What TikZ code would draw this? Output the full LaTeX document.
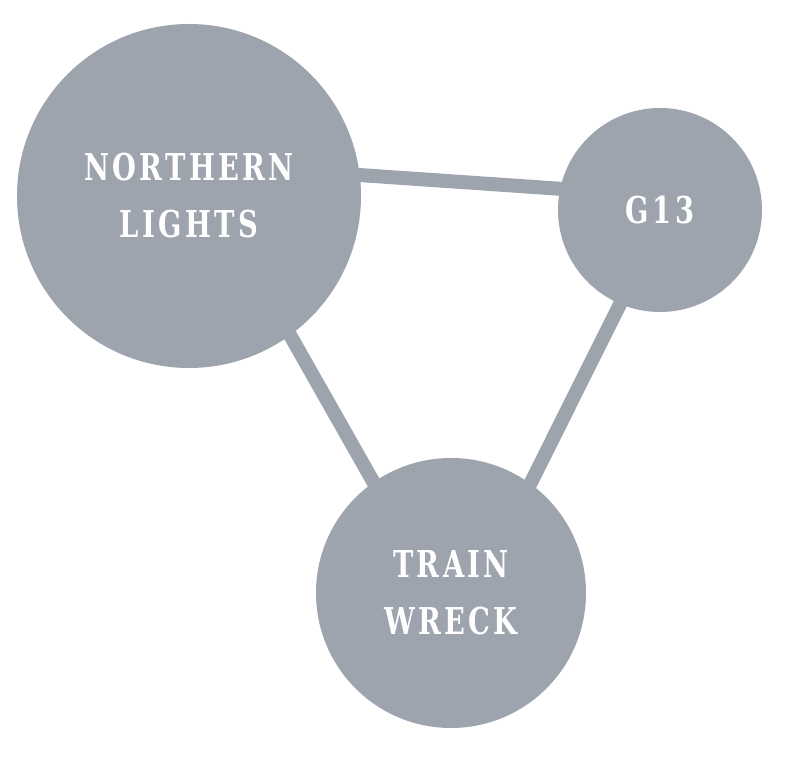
\documentclass[tikz,border=0pt]{standalone}
\usepackage{fontspec}
\newfontfamily\strainfont[FakeStretch=0.74,LetterSpace=9]{DejaVu Serif}
\usetikzlibrary{calc,positioning}
\pgfdeclarelayer{background}
\pgfsetlayers{background,main}
\definecolor{straingrey}{RGB}{157,164,174}

\begin{document}
\begin{tikzpicture}[
    x=0.5pt,y=-0.5pt,
    strain/.style={circle,fill=straingrey,text=white,inner sep=0pt,
      outer sep=0pt,align=center,
      font=\strainfont\bfseries\fontsize{18.5}{28.5}\selectfont},
    link/.style={straingrey,line width=7pt,shorten <=-6pt,shorten >=-6pt}
  ]
  \useasboundingbox (0,0) rectangle (800,779);
  % strains
  \node [strain,minimum size=172pt] at (189,196) (northern) {NORTHERN\\LIGHTS};
  \node [strain,minimum size=102pt] at (660,210) (gthirteen) {G13};
  \node [strain,minimum size=135pt] at (451,593) (trainwreck) {TRAIN\\WRECK};
  % links
  \begin{pgfonlayer}{background}
    \draw [link] (northern.7) -- (gthirteen.168);
    \draw [link] (northern.-54) -- (trainwreck.125);
    \draw [link] (gthirteen.247) -- (trainwreck.54);
  \end{pgfonlayer}
\end{tikzpicture}
\end{document}
